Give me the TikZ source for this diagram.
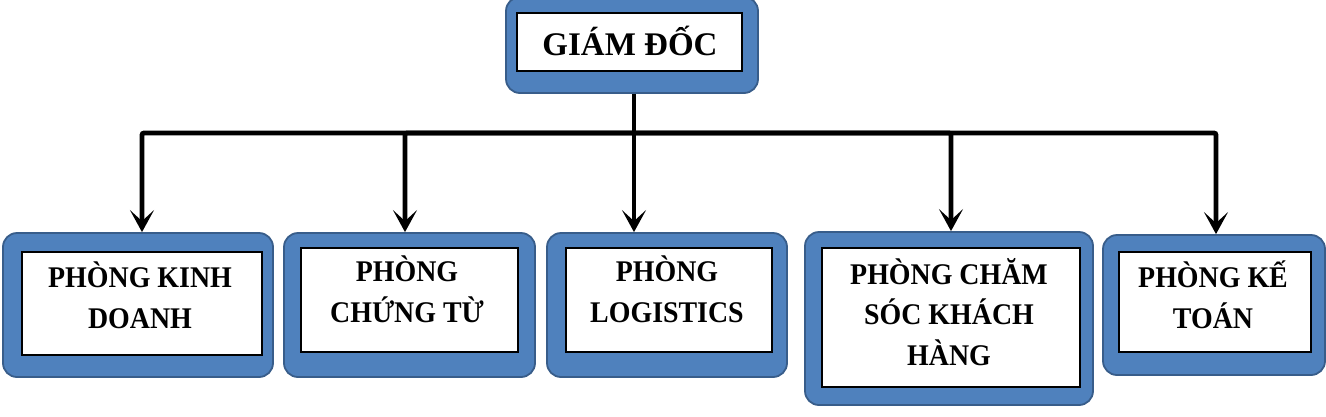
\documentclass[tikz,border=0pt]{standalone}
\usepackage{fontspec}
\setmainfont{Liberation Serif}
\newfontfamily\deptfont{Liberation Serif}[FakeStretch=0.93]
\usetikzlibrary{arrows.meta}
\definecolor{frameblue}{HTML}{4F81BD}
\definecolor{frameedge}{HTML}{385D8A}
\tikzset{
  outerbox/.style={draw=frameedge, line width=1.8pt, fill=frameblue, rounded corners=14pt, inner sep=0pt},
  innerbox/.style={draw=black, line width=1.8pt, fill=white, inner sep=0pt},
  depttext/.style={font=\deptfont\bfseries\fontsize{30}{40.5}\selectfont, align=center, inner sep=0pt, anchor=base},
  toptext/.style={font=\bfseries\fontsize{33}{40}\selectfont, inner sep=0pt, anchor=base},
  conn/.style={line width=4.8pt, black, rounded corners=2pt},
  arr/.style={conn, -{Stealth[length=22pt,width=24pt,inset=11pt]}}
}
\begin{document}
\begin{tikzpicture}[x=1pt,y=-1pt]
\useasboundingbox (0,0) rectangle (1326,416);
% top
\node[outerbox, minimum width=252pt, minimum height=96pt] (gdo) at (632,45) {};
\node[innerbox, minimum width=225pt, minimum height=58pt] (gd) at (629.5,42) {};
\node[toptext] (gdt) at (630,55) {GIÁM ĐỐC};
% departments
\node[outerbox, minimum width=270pt, minimum height=144pt] (kdo) at (138,305) {};
\node[innerbox, minimum width=240pt, minimum height=103pt] (kd) at (142,303.5) {};
\node[depttext] (kdt) at (140,328) {PHÒNG KINH\\DOANH};

\node[outerbox, minimum width=251pt, minimum height=144pt] (cto) at (409.5,305) {};
\node[innerbox, minimum width=217pt, minimum height=104pt] (ct) at (409.5,300) {};
\node[depttext] (ctt) at (407,322) {PHÒNG\\CHỨNG TỪ};

\node[outerbox, minimum width=240pt, minimum height=144pt] (lgo) at (667,305) {};
\node[innerbox, minimum width=206pt, minimum height=104pt] (lg) at (669,300) {};
\node[depttext] (lgt) at (667,322) {PHÒNG\\LOGISTICS};

\node[outerbox, minimum width=288pt, minimum height=173pt] (cso) at (949,318.5) {};
\node[innerbox, minimum width=258pt, minimum height=139pt] (cs) at (951,317.5) {};
\node[depttext] (cst) at (949,365) {PHÒNG CHĂM\\SÓC KHÁCH\\HÀNG};

\node[outerbox, minimum width=222pt, minimum height=140pt] (kto) at (1214,305) {};
\node[innerbox, minimum width=192pt, minimum height=100pt] (kt) at (1215,302) {};
\node[depttext] (ktt) at (1213,328) {PHÒNG KẾ\\TOÁN};
% connectors
\coordinate (bus) at (634,133);
\draw[conn] (gdo.south -| bus) -- (bus);
\draw[arr] (bus) -| ([xshift=4pt]kdo.north);
\draw[arr] (bus) -| ([xshift=-4.5pt]cto.north);
\draw[arr] (bus) -- (bus |- lgo.north);
\draw[arr] (bus) -| ([xshift=2pt]cso.north);
\draw[arr] (bus) -| ([xshift=2pt]kto.north);
\end{tikzpicture}
\end{document}
